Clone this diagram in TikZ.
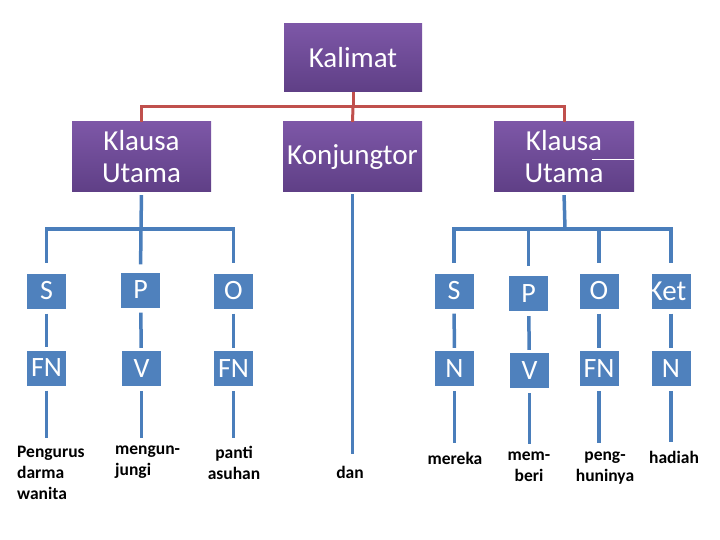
\documentclass[tikz,border=0pt]{standalone}
\usepackage{fontspec}
\setmainfont{Carlito}
\usetikzlibrary{calc}
\definecolor{headtop}{RGB}{125,87,167}
\definecolor{headbot}{RGB}{95,63,134}
\definecolor{boxblue}{RGB}{79,129,189}
\definecolor{lineblue}{RGB}{74,126,187}
\definecolor{linered}{RGB}{192,80,77}
\tikzset{
	headbox/.style={minimum width=139pt, minimum height=70pt, inner sep=0pt,
		top color=headtop, bottom color=headbot, text=white, align=center,
		font=\fontsize{29}{32}\selectfont},
	catbox/.style={minimum width=39pt, minimum height=35pt, inner sep=0pt,
		fill=boxblue, text=white, font=\fontsize{28}{32}\selectfont},
	wordlabel/.style={inner sep=0pt, font=\fontsize{17.5}{21}\selectfont\bfseries},
	redline/.style={draw=linered, line width=3pt},
	blueline/.style={draw=lineblue, line width=3.5pt},
}
\begin{document}
\begin{tikzpicture}[x=1pt,y=-1pt]
	\useasboundingbox (0,0) rectangle (720,540);
	\node[headbox, minimum width=138pt, minimum height=68pt] (kal) at (353,58) {Kalimat};
	\node[headbox] (ku1) at (141.5,157) {Klausa\\Utama};
	\node[headbox] (konj) at (352.5,157) {Konjungtor};
	\node[headbox, minimum width=140pt] (ku2) at (564,157) {Klausa\\Utama};
	\draw[white, line width=0.8pt] ($(ku2.east)+(-42,2)$) -- ($(ku2.east)+(0,2)$);

	\coordinate (top) at (353,107);
	\draw[redline] (kal.south) -- (top);
	\draw[redline] (ku1.north) |- (top) -| (ku2.north);
	\draw[redline] (top) -- (konj.north);

	\node[catbox] (s1) at (46.5,291) {S};
	\node[catbox] (p1) at (140.5,290) {P};
	\node[catbox] (o1) at (233.5,291) {O};
	\node[catbox] (s2) at (454,291) {S};
	\node[catbox] (p2) at (528.5,293.5) {P};
	\node[catbox] (o2) at (599,291) {O};
	\node[catbox, path picture={\node[fill=none, draw=none, inner sep=0pt, text=white,
		font=\fontsize{29}{32}\selectfont] at ($(path picture bounding box.center)+(-4,0)$) {Ket};}]
		(ket2) at (671,291) {};

	\node[catbox] (fn1) at (46.5,368) {FN};
	\node[catbox] (v1) at (141.5,368.5) {V};
	\node[catbox] (fn1b) at (233.5,368.5) {FN};
	\node[catbox] (n2) at (454.5,368.5) {N};
	\node[catbox] (v2) at (529.5,370.5) {V};
	\node[catbox] (fn2) at (599,368.5) {FN};
	\node[catbox] (n2b) at (671,368.5) {N};

	\coordinate (busl) at (141,229);
	\coordinate (busr) at (565,229);
	\draw[blueline, shorten <=3pt] (ku1.south) -- (busl);
	\draw[blueline, shorten >=10pt] (busl) -| (s1.north);
	\draw[blueline, shorten >=8pt] (busl) -- (p1.north);
	\draw[blueline, shorten >=10pt] (busl) -| (o1.north);
	\draw[blueline, shorten <=3pt] (ku2.south) -- (busr);
	\draw[blueline, shorten >=10pt] (busr) -| (s2.north);
	\draw[blueline, shorten >=10pt] (busr) -| (p2.north);
	\draw[blueline, shorten >=10pt] (busr) -| (o2.north);
	\draw[blueline, shorten >=10pt] (busr) -| (ket2.north);

	\draw[blueline, shorten <=5pt, shorten >=3pt] (s1) -- (fn1);
	\draw[blueline, shorten <=5pt, shorten >=3pt] (p1) -- (v1);
	\draw[blueline, shorten <=5pt, shorten >=3pt] (o1) -- (fn1b);
	\draw[blueline, shorten <=5pt, shorten >=3pt] (s2) -- (n2);
	\draw[blueline, shorten <=5pt, shorten >=3pt] (p2) -- (v2);
	\draw[blueline, shorten <=5pt, shorten >=3pt] (o2) -- (fn2);
	\draw[blueline, shorten <=5pt, shorten >=3pt] (ket2) -- (n2b);

	\node[wordlabel, anchor=north west, align=left] (pdw) at (17,446) {Pengurus\\darma\\wanita};
	\node[wordlabel, anchor=north west, align=left] (mj) at (115,446) {mengun-\\jungi};
	\node[wordlabel, anchor=north, align=center] (pa) at (234,446) {panti\\asuhan};
	\node[wordlabel, anchor=north] (dan) at (350,466) {dan};
	\node[wordlabel, anchor=north] (mrk) at (455,452) {mereka};
	\node[wordlabel, anchor=north, align=center] (mb) at (529,452) {mem-\\beri};
	\node[wordlabel, anchor=north, align=center] (ph) at (605,452) {peng-\\huninya};
	\node[wordlabel, anchor=north] (hd) at (674,451) {hadiah};

	\draw[blueline, shorten <=2pt, shorten >=12pt] (konj.south) -- (konj.south |- dan.north);
	\draw[blueline, shorten <=5pt, shorten >=8pt] (fn1.south) -- (fn1.south |- pdw.north);
	\draw[blueline, shorten <=5pt, shorten >=8pt] (v1.south) -- (v1.south |- mj.north);
	\draw[blueline, shorten <=5pt, shorten >=8pt] (fn1b.south) -- (fn1b.south |- pa.north);
	\draw[blueline, shorten <=5pt, shorten >=9pt] (n2.south) -- (n2.south |- mrk.north);
	\draw[blueline, shorten <=5pt, shorten >=8pt] (v2.south) -- (v2.south |- mb.north);
	\draw[blueline, shorten <=5pt, shorten >=9pt] (fn2.south) -- (fn2.south |- ph.north);
	\draw[blueline, shorten <=5pt, shorten >=9pt] (n2b.south) -- (n2b.south |- hd.north);
\end{tikzpicture}
\end{document}
